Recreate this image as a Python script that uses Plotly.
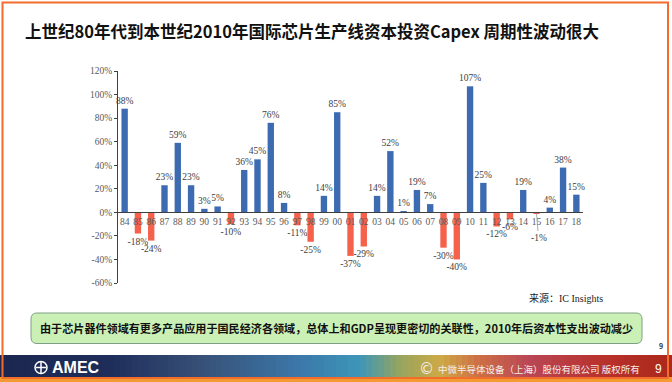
import plotly.graph_objects as go

# ---------------- data ----------------
years = ["84", "85", "86", "87", "88", "89", "90", "91", "92", "93", "94", "95",
         "96", "97", "98", "99", "00", "01", "02", "03", "04", "05", "06", "07",
         "08", "09", "10", "11", "12", "13", "14", "15", "16", "17", "18"]
capex_growth = [88, -18, -24, 23, 59, 23, 3, 5, -10, 36, 45, 76,
                8, -11, -25, 14, 85, -37, -29, 14, 52, 1, 19, 7,
                -30, -40, 107, 25, -12, -6, 19, -1, 4, 38, 15]
ytick_vals = [-60, -40, -20, 0, 20, 40, 60, 80, 100, 120]
ytick_text = ["-60%", "-40%", "-20%", "0%", "20%", "40%", "60%", "80%", "100%", "120%"]

title_text = "上世纪80年代到本世纪2010年国际芯片生产线资本投资Capex 周期性波动很大"
note_text = "由于芯片器件领域有更多产品应用于国民经济各领域，总体上和GDP呈现更密切的关联性，2010年后资本性支出波动减少"
source_text = "来源：IC Insights"
footer_text = "中微半导体设备（上海）股份有限公司 版权所有"

# ---------------- layout geometry (pixels) ----------------
W_FIG, H_FIG = 672, 382
L, R, T, B = 118, 583, 71, 283
PW, PH = R - L, B - T


def px(x):
    return (x - L) / PW


def py(y):
    return (B - y) / PH


BLUE = "#3D6BB1"
RED = "#F5614A"
SERIF = "Liberation Serif, Times New Roman, serif"

colors = [BLUE if v >= 0 else RED for v in capex_growth]
labels = [f"{v}%" if abs(v) > 1 or v > 0 else "" for v in capex_growth]

fig = go.Figure()
fig.add_trace(go.Bar(
    x=years, y=capex_growth,
    marker=dict(color=colors, line=dict(width=0)),
    text=labels, textposition="outside", constraintext="none",
    cliponaxis=False,
    textfont=dict(family=SERIF, size=9.5, color="#404040"),
    hoverinfo="skip",
))

annotations = []
# leader-line label for the tiny negative bar (category index used on category axis)
for i, v in enumerate(capex_growth):
    if v < 0 and abs(v) <= 1:
        annotations.append(dict(
            x=i, y=v, xref="x", yref="y", text=f"{v}%", showarrow=True,
            arrowhead=0, arrowwidth=0.7, arrowcolor="#888888", ax=2, ay=24,
            font=dict(family=SERIF, size=9.5, color="#404040")))

annotations += [
    dict(x=px(22.7), y=py(31.5), xref="paper", yref="paper", xanchor="left",
         yanchor="middle", showarrow=False, text=title_text,
         font=dict(family="Noto Sans CJK SC", size=16.5, color="#111111", weight="bold")),
    dict(x=px(605), y=py(297.5), xref="paper", yref="paper", xanchor="right",
         yanchor="middle", showarrow=False, text=source_text,
         font=dict(family=SERIF + ", Noto Sans CJK SC", size=10, color="#222222")),
    dict(x=px(336), y=py(328), xref="paper", yref="paper", xanchor="center",
         yanchor="middle", showarrow=False, text=note_text,
         font=dict(family="Noto Sans CJK SC", size=11.1, color="#111111", weight="bold")),
    dict(x=px(661), y=py(346), xref="paper", yref="paper", xanchor="center",
         yanchor="middle", showarrow=False, text="9",
         font=dict(family="Noto Sans CJK SC", size=7, color="#333333", weight="bold")),
    dict(x=px(50), y=py(367.5), xref="paper", yref="paper", xanchor="left",
         yanchor="middle", showarrow=False, text="AMEC",
         font=dict(family="Liberation Sans", size=16, color="#ffffff", weight="bold")),
    dict(x=px(426), y=py(368.5), xref="paper", yref="paper", xanchor="center",
         yanchor="middle", showarrow=False, text="©",
         font=dict(family="DejaVu Sans", size=15, color="#f4ecec")),
    dict(x=px(436), y=py(369), xref="paper", yref="paper", xanchor="left",
         yanchor="middle", showarrow=False, text=footer_text,
         font=dict(family="Noto Sans CJK SC", size=9.5, color="#f4ecec")),
    dict(x=px(658), y=py(368.5), xref="paper", yref="paper", xanchor="center",
         yanchor="middle", showarrow=False, text="9",
         font=dict(family="Liberation Sans", size=12, color="#ffffff")),
]

shapes = []

# footer band as colour strips
stops = [(0, (27, 39, 80)), (110, (30, 45, 90)), (200, (55, 80, 118)),
         (300, (60, 120, 170)), (360, (60, 150, 185)), (400, (150, 165, 95)),
         (440, (205, 170, 70)), (480, (205, 110, 70)), (530, (185, 70, 85)),
         (600, (185, 50, 45)), (672, (170, 40, 25))]


def col_at(x):
    for (x0, c0), (x1, c1) in zip(stops[:-1], stops[1:]):
        if x0 <= x <= x1:
            t = (x - x0) / (x1 - x0)
            c = [round(a + (b - a) * t) for a, b in zip(c0, c1)]
            return f"rgb({c[0]},{c[1]},{c[2]})"
    return "rgb(170,40,25)"


step = 6
for x0 in range(0, W_FIG, step):
    shapes.append(dict(type="rect", xref="paper", yref="paper",
                       x0=px(x0), x1=px(x0 + step + 0.5), y0=py(377), y1=py(355),
                       fillcolor=col_at(x0 + step / 2), line=dict(width=0), layer="below"))

# bottom orange band and frame
shapes.append(dict(type="rect", xref="paper", yref="paper", x0=px(0), x1=px(672),
                   y0=py(382), y1=py(377), fillcolor="#F39A33", line=dict(width=0), layer="below"))
shapes.append(dict(type="rect", xref="paper", yref="paper", x0=px(2.5), x1=px(668),
                   y0=py(378), y1=py(2.5), fillcolor="rgba(0,0,0,0)",
                   line=dict(color="#F26D2C", width=2), layer="above"))

# AMEC logo circle
shapes.append(dict(type="circle", xref="paper", yref="paper", x0=px(35), x1=px(47),
                   y0=py(373.5), y1=py(361.5), line=dict(color="#ffffff", width=1.5)))
shapes.append(dict(type="line", xref="paper", yref="paper", x0=px(36), x1=px(46),
                   y0=py(367.5), y1=py(367.5), line=dict(color="#ffffff", width=1.5)))
shapes.append(dict(type="line", xref="paper", yref="paper", x0=px(41), x1=px(41),
                   y0=py(362), y1=py(373), line=dict(color="#ffffff", width=1.5)))


# rounded green note box
def rounded_path(x0, y0, x1, y1, r):
    pts = [
        f"M {px(x0 + r)},{py(y0)}",
        f"L {px(x1 - r)},{py(y0)}",
        f"Q {px(x1)},{py(y0)} {px(x1)},{py(y0 + r)}",
        f"L {px(x1)},{py(y1 - r)}",
        f"Q {px(x1)},{py(y1)} {px(x1 - r)},{py(y1)}",
        f"L {px(x0 + r)},{py(y1)}",
        f"Q {px(x0)},{py(y1)} {px(x0)},{py(y1 - r)}",
        f"L {px(x0)},{py(y0 + r)}",
        f"Q {px(x0)},{py(y0)} {px(x0 + r)},{py(y0)} Z",
    ]
    return " ".join(pts)


shapes.append(dict(type="path", xref="paper", yref="paper",
                   path=rounded_path(31, 313, 642, 343.5, 6),
                   fillcolor="#CBF0B6", line=dict(color="#7E9E86", width=1), layer="below"))

fig.update_layout(
    width=W_FIG, height=H_FIG,
    margin=dict(l=L, r=W_FIG - R, t=T, b=H_FIG - B, pad=0),
    paper_bgcolor="#ffffff", plot_bgcolor="rgba(0,0,0,0)",
    showlegend=False, bargap=0.52,
    annotations=annotations, shapes=shapes,
    xaxis=dict(type="category", range=[-0.5, 34.5], anchor="free", position=1 / 3,
               showline=True, linecolor="#404040", linewidth=1, ticks="",
               showgrid=False, zeroline=False, fixedrange=True,
               tickfont=dict(family=SERIF, size=9.5, color="#595959")),
    yaxis=dict(range=[-60, 120], tickvals=ytick_vals, ticktext=ytick_text,
               showline=True, linecolor="#404040", linewidth=1, ticks="outside",
               ticklen=3, tickcolor="#404040", showgrid=False, zeroline=False,
               fixedrange=True,
               tickfont=dict(family=SERIF, size=9.5, color="#595959")),
)

fig.write_html(
    "out.html",
    config={"displayModeBar": False},
    post_script="document.body.style.margin='0';document.body.style.overflow='hidden';",
)
